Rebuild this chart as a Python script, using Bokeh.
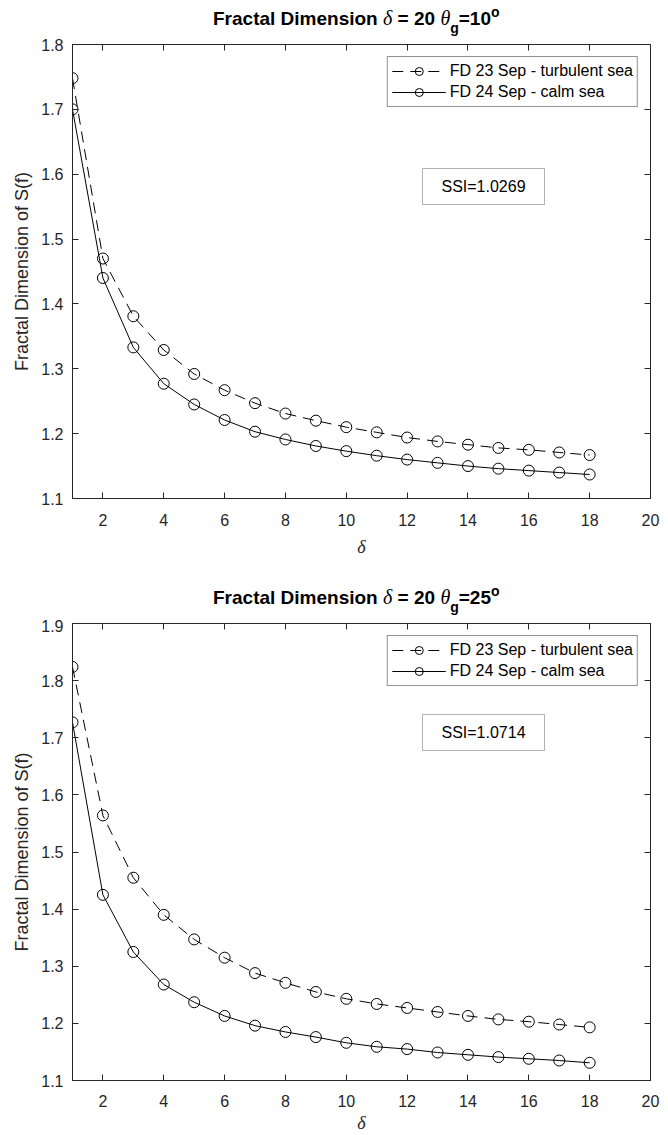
from bokeh.plotting import figure
from bokeh.models import (Range1d, LinearAxis, FixedTicker, Label, BoxAnnotation,
                          Legend, LegendItem, Div, CustomJSTickFormatter)
from bokeh.layouts import column
from bokeh.embed import file_html
from bokeh.resources import INLINE

# ---------------- data ----------------
delta = list(range(1, 19))
xticks = [2, 4, 6, 8, 10, 12, 14, 16, 18, 20]

fd23_10 = [1.748, 1.470, 1.381, 1.329, 1.292, 1.267, 1.247, 1.231, 1.220,
           1.210, 1.202, 1.194, 1.188, 1.183, 1.178, 1.175, 1.171, 1.167]
fd24_10 = [1.700, 1.440, 1.333, 1.277, 1.245, 1.221, 1.203, 1.191, 1.181,
           1.173, 1.166, 1.160, 1.155, 1.150, 1.146, 1.143, 1.140, 1.137]
fd23_25 = [1.824, 1.564, 1.455, 1.390, 1.347, 1.315, 1.288, 1.271, 1.255,
           1.243, 1.234, 1.227, 1.220, 1.213, 1.207, 1.203, 1.198, 1.193]
fd24_25 = [1.727, 1.425, 1.325, 1.268, 1.237, 1.213, 1.196, 1.185, 1.176,
           1.166, 1.159, 1.155, 1.149, 1.145, 1.141, 1.138, 1.135, 1.131]

yticks_10 = [1.1, 1.2, 1.3, 1.4, 1.5, 1.6, 1.7, 1.8]
yticks_25 = [1.1, 1.2, 1.3, 1.4, 1.5, 1.6, 1.7, 1.8, 1.9]

label_23 = "FD 23 Sep - turbulent sea"
label_24 = "FD 24 Sep - calm sea"
ssi_10 = "SSI=1.0269"
ssi_25 = "SSI=1.0714"
angle_10 = "10"
angle_25 = "25"

AX = "#262626"
SANS = "Liberation Sans"
SERIF = "Liberation Serif"

W = 668
FRAME_LEFT_PAGE = 72
FRAME_W = 578


def title_div(angle, height, margin_top):
    greek = ("font-family:'Liberation Serif'; font-style:italic; "
             "font-weight:normal; font-size:20px;")
    html = (
        f'<div style="margin-top:{margin_top}px; padding-left:213px; '
        "font-family:'Liberation Sans'; font-weight:bold; font-size:19px; "
        'line-height:20px; color:#000; white-space:nowrap;">'
        f'Fractal Dimension <span style="{greek}">δ</span> = 20 '
        f'<span style="{greek}">θ</span>'
        '<span style="font-size:14px; position:relative; top:8px;">g</span>'
        f'={angle}'
        '<span style="font-size:14px; position:relative; top:-8px;">o</span>'
        '</div>'
    )
    return Div(text=html, width=W, height=height, margin=(0, 0, 0, 0))


def make_plot(H, top_border, bottom_border, ylo, yhi, yticks, s23, s24,
              ssi_text, frame_top_page, frame_h, box_page,
              tick_standoff, xlabel_standoff):
    p = figure(width=W, height=H, x_range=Range1d(1, 20), y_range=Range1d(ylo, yhi),
               output_backend="svg", toolbar_location=None,
               min_border_left=72, min_border_right=18,
               min_border_top=top_border, min_border_bottom=bottom_border)
    p.grid.visible = False
    p.outline_line_color = AX
    p.background_fill_color = "white"

    def px2x(px):
        return 1 + (px - FRAME_LEFT_PAGE) * 19.0 / FRAME_W

    def py2y(py):
        return yhi - (py - frame_top_page) * (yhi - ylo) / frame_h

    def style(ax, labels=True):
        ax.axis_line_color = AX
        ax.major_tick_line_color = AX
        ax.major_tick_in = 6
        ax.major_tick_out = 0
        ax.minor_tick_in = 0
        ax.minor_tick_out = 0
        ax.major_label_text_color = AX
        ax.major_label_text_font = SANS
        ax.major_label_text_font_size = "16px"
        if not labels:
            ax.formatter = CustomJSTickFormatter(code="return ''")
            ax.major_label_standoff = 0

    xa = p.xaxis[0]
    ya = p.yaxis[0]
    xa.ticker = FixedTicker(ticks=xticks)
    ya.ticker = FixedTicker(ticks=yticks)
    style(xa)
    style(ya)
    xa.major_label_standoff = tick_standoff
    ya.major_label_standoff = 9
    xa.axis_label = "δ"
    xa.axis_label_text_font = SERIF
    xa.axis_label_text_font_style = "italic"
    xa.axis_label_text_font_size = "18px"
    xa.axis_label_text_color = AX
    xa.axis_label_standoff = xlabel_standoff
    ya.axis_label = "Fractal Dimension of S(f)"
    ya.axis_label_text_font = SANS
    ya.axis_label_text_font_style = "normal"
    ya.axis_label_text_font_size = "18px"
    ya.axis_label_text_color = AX
    ya.axis_label_standoff = 6

    top_ax = LinearAxis(ticker=FixedTicker(ticks=xticks))
    style(top_ax, labels=False)
    p.add_layout(top_ax, "above")
    right_ax = LinearAxis(ticker=FixedTicker(ticks=yticks))
    style(right_ax, labels=False)
    p.add_layout(right_ax, "right")

    l23 = p.line(delta, s23, line_color="black", line_width=1, line_dash="11 7")
    m23 = p.scatter(delta, s23, marker="circle", size=11, line_color="black",
                    line_width=1, fill_alpha=0)
    l24 = p.line(delta, s24, line_color="black", line_width=1)
    m24 = p.scatter(delta, s24, marker="circle", size=11, line_color="black",
                    line_width=1, fill_alpha=0)

    legend = Legend(items=[LegendItem(label=label_23, renderers=[l23, m23]),
                           LegendItem(label=label_24, renderers=[l24, m24])],
                    location="top_right")
    legend.label_text_font = SANS
    legend.label_text_font_size = "16px"
    legend.label_text_color = "black"
    legend.glyph_width = 54
    legend.glyph_height = 20
    legend.label_height = 20
    legend.label_standoff = 4
    legend.spacing = 1
    legend.padding = 4
    legend.margin = 12
    legend.border_line_color = AX
    legend.border_line_width = 1
    legend.background_fill_alpha = 1
    p.add_layout(legend)

    bl, br, bt, bb = box_page
    p.add_layout(BoxAnnotation(left=px2x(bl), right=px2x(br), top=py2y(bt), bottom=py2y(bb),
                               fill_color="white", fill_alpha=1, line_color="black",
                               line_width=1))
    p.add_layout(Label(x=px2x((bl + br) / 2), y=py2y((bt + bb) / 2), text=ssi_text,
                       text_align="center", text_baseline="middle",
                       text_font=SANS, text_font_size="16px", text_color="black"))
    return p


d1 = title_div(angle_10, 36, 8)
p1 = make_plot(H=524, top_border=8, bottom_border=62, ylo=1.1, yhi=1.8,
               yticks=yticks_10, s23=fd23_10, s24=fd24_10, ssi_text=ssi_10,
               frame_top_page=44, frame_h=454,
               box_page=(422, 544, 168, 204), tick_standoff=15, xlabel_standoff=8)
d2 = title_div(angle_25, 59, 27)
p2 = make_plot(H=516, top_border=4, bottom_border=55, ylo=1.1, yhi=1.9,
               yticks=yticks_25, s23=fd23_25, s24=fd24_25, ssi_text=ssi_25,
               frame_top_page=623, frame_h=457,
               box_page=(422, 544, 714, 750), tick_standoff=14, xlabel_standoff=3)

layout = column(d1, p1, d2, p2)
open("out.html", "w").write(file_html(layout, INLINE))
